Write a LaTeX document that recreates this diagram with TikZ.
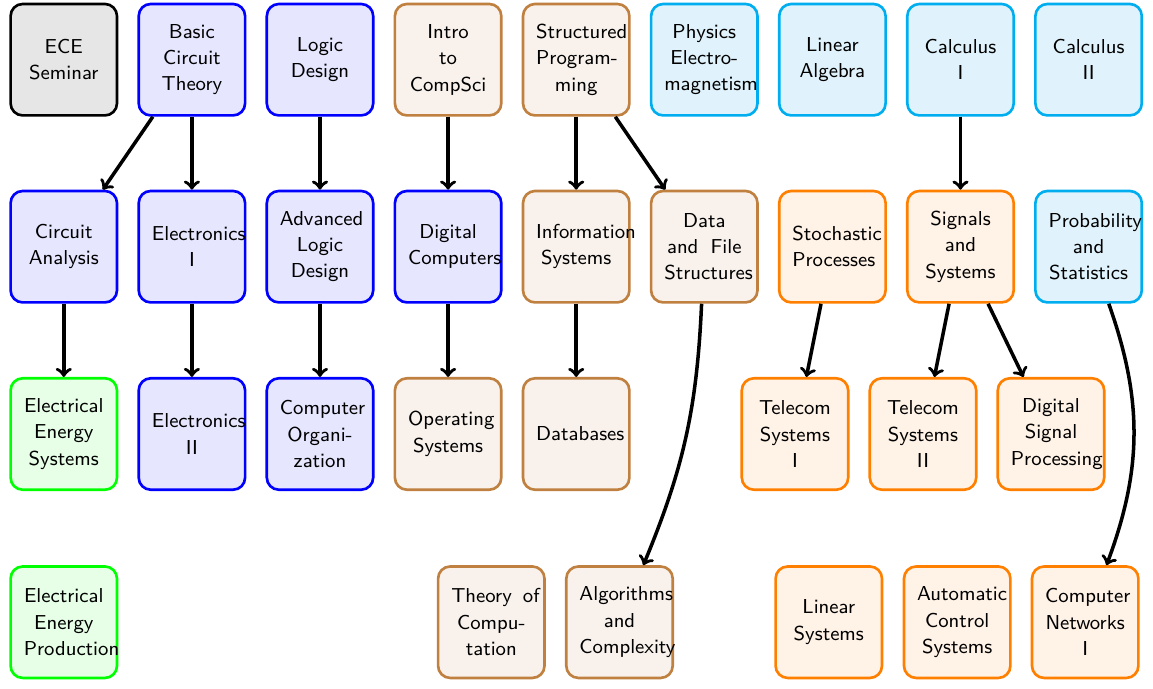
\documentclass[tikz,border=0pt]{standalone}
\definecolor{cyanD}{RGB}{0,174,239}
\definecolor{cyanF}{RGB}{224,243,252}
\definecolor{brownD}{RGB}{191,128,64}
\definecolor{brownF}{RGB}{249,242,236}
\definecolor{blueD}{RGB}{0,0,255}
\definecolor{blueF}{RGB}{230,230,255}
\definecolor{orangeD}{RGB}{255,128,0}
\definecolor{orangeF}{RGB}{255,242,230}
\definecolor{greenD}{RGB}{0,255,0}
\definecolor{greenF}{RGB}{230,255,230}
\definecolor{grayF}{RGB}{230,230,230}
\begin{document}
\begin{tikzpicture}[x=0.4558pt,y=0.4558pt,
  course/.style={draw, very thick, rounded corners=5.5pt, minimum width=48.5pt,
    minimum height=50.8pt, text width=36.5pt, align=center,
    font=\sffamily\fontsize{9.2pt}{12pt}\selectfont},
  grayC/.style={course, draw=black, fill=grayF},
  blueC/.style={course, draw=blueD, fill=blueF},
  brownC/.style={course, draw=brownD, fill=brownF},
  cyanC/.style={course, draw=cyanD, fill=cyanF},
  orangeC/.style={course, draw=orangeD, fill=orangeF},
  greenC/.style={course, draw=greenD, fill=greenF},
  arr/.style={->, ultra thick, black}]
\useasboundingbox (0,0) rectangle (1153,-689);
% row 1
\node[grayC]   (ece)    at (63.8,-59.7)  {ECE\\Seminar};
\node[blueC]   (basic)  at (191.9,-59.7) {Basic\\Circuit\\Theory};
\node[blueC]   (logic)  at (320,-59.7)   {Logic\\Design};
\node[brownC]  (intro)  at (448.1,-59.7) {Intro\\to\\CompSci};
\node[brownC]  (struct) at (576.2,-59.7) {Structured\\\mbox{Program-}\\ming};
\node[cyanC]   (phys)   at (704.3,-59.7) {Physics\\\mbox{Electro-}\\magnetism};
\node[cyanC]   (linalg) at (832.4,-59.7) {Linear\\Algebra};
\node[cyanC]   (calc1)  at (960.5,-59.7) {Calculus\\I};
\node[cyanC]   (calc2)  at (1088.6,-59.7) {Calculus\\II};
% row 2
\node[blueC]   (circ)   at (63.8,-246.7)  {Circuit\\Analysis};
\node[blueC]   (elec1)  at (191.9,-246.7) {Electronics\\I};
\node[blueC]   (adv)    at (320,-246.7)   {Advanced\\Logic\\Design};
\node[blueC]   (dig)    at (448.1,-246.7) {Digital\\Computers};
\node[brownC]  (info)   at (576.2,-246.7) {Information\\Systems};
\node[brownC]  (data)   at (704.3,-246.7) {Data\\\mbox{and\hspace{0.6em}File}\\Structures};
\node[orangeC] (stoch)  at (832.4,-246.7) {Stochastic\\Processes};
\node[orangeC] (sig)    at (960.5,-246.7) {Signals\\and\\Systems};
\node[cyanC]   (prob)   at (1088.6,-246.7) {Probability\\and\\Statistics};
% row 3
\node[greenC]  (ees)    at (63.8,-434)  {Electrical\\Energy\\Systems};
\node[blueC]   (elec2)  at (191.9,-434) {Electronics\\II};
\node[blueC]   (corg)   at (320,-434)   {Computer\\\mbox{Organi-}\\zation};
\node[brownC]  (os)     at (448.1,-434) {Operating\\Systems};
\node[brownC]  (db)     at (576.2,-434) {Databases};
\node[orangeC] (tel1)   at (795,-434)   {Telecom\\Systems\\I};
\node[orangeC] (tel2)   at (923,-434)   {Telecom\\Systems\\II};
\node[orangeC] (dsp)    at (1051,-434)  {Digital\\Signal\\Processing};
% row 4
\node[greenC]  (eep)    at (63.8,-622.2)  {Electrical\\Energy\\Production};
\node[brownC]  (toc)    at (491.3,-622.2) {\mbox{Theory\hspace{0.55em}of}\\\mbox{Compu-}\\tation};
\node[brownC]  (algo)   at (619.5,-622.2) {Algorithms\\and\\Complexity};
\node[orangeC] (lsys)   at (828.8,-622.2) {Linear\\Systems};
\node[orangeC] (acs)    at (957.2,-622.2) {Automatic\\Control\\Systems};
\node[orangeC] (net)    at (1085.2,-622.2) {Computer\\Networks\\I};
% connectors
\draw[arr] (basic) -- (circ);
\draw[arr] (basic) -- (elec1);
\draw[arr] (logic) -- (adv);
\draw[arr] (intro) -- (dig);
\draw[arr] (struct) -- (info);
\draw[arr] (struct) -- (data);
\draw[arr] (calc1) -- (sig);
\draw[arr] (circ) -- (ees);
\draw[arr] (elec1) -- (elec2);
\draw[arr] (adv) -- (corg);
\draw[arr] (dig) -- (os);
\draw[arr] (info) -- (db);
\draw[arr] (data) to[bend left=10] (algo);
\draw[arr] (stoch) -- (tel1);
\draw[arr] (sig) -- (tel2);
\draw[arr] (sig) -- (dsp);
\draw[arr] (prob) to[bend left=20] (net);
\end{tikzpicture}
\end{document}
